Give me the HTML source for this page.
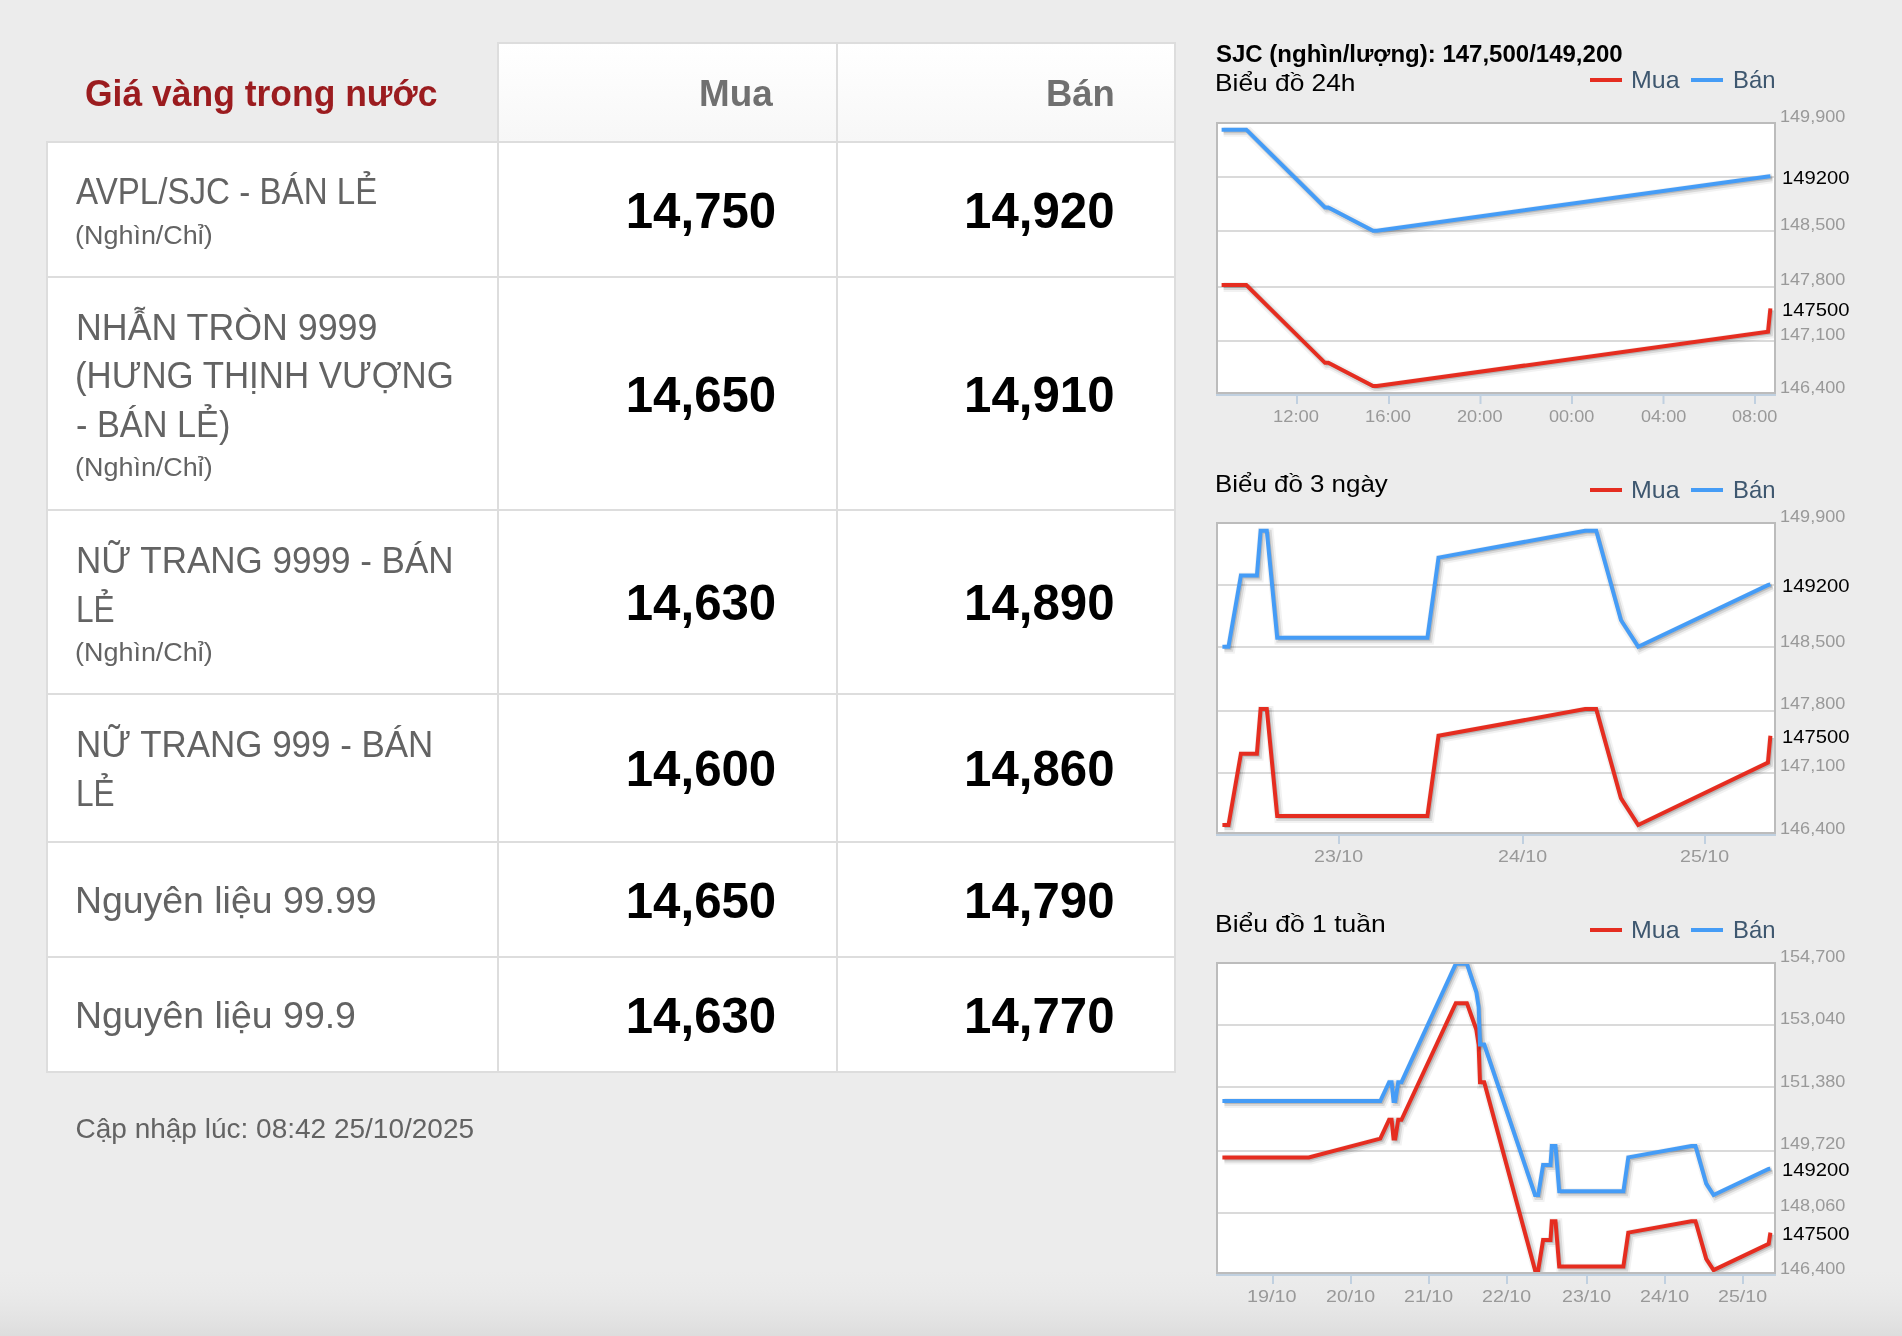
<!DOCTYPE html>
<html lang="vi"><head><meta charset="utf-8"><title>Giá vàng trong nước</title>
<style>
html,body{margin:0;padding:0}
body{width:1902px;height:1336px;overflow:hidden;position:relative;background:#ececec;font-family:"Liberation Sans",sans-serif}
.fade{position:absolute;left:0;top:1270px;width:1902px;height:66px;background:linear-gradient(#ececec,#ebebeb 15%,#eaeaea 30%,#e7e7e7 53%,#e3e3e3 74%,#dfdfdf 91%,#dddddd)}
.cell{position:absolute;box-sizing:border-box;border:2px solid #dddddd;background:#fff}
.cell.h{background:linear-gradient(#ffffff,#fcfcfc 40%,#f7f7f7)}
.labels{position:absolute;left:0;top:0;width:1902px;height:1336px;will-change:transform}
.t{position:absolute;white-space:nowrap;line-height:0;transform-origin:0 0;margin:0}
svg{position:absolute;left:0;top:0;overflow:visible}
</style></head><body>
<div class="fade"></div>
<div class="price-table">
<div class="cell h" style="left:497px;top:42px;width:341px;height:101px"></div><div class="cell h" style="left:836px;top:42px;width:340px;height:101px"></div>
<div class="cell" style="left:46px;top:141px;width:453px;height:137px"></div><div class="cell" style="left:497px;top:141px;width:341px;height:137px"></div><div class="cell" style="left:836px;top:141px;width:340px;height:137px"></div>
<div class="cell" style="left:46px;top:276px;width:453px;height:235px"></div><div class="cell" style="left:497px;top:276px;width:341px;height:235px"></div><div class="cell" style="left:836px;top:276px;width:340px;height:235px"></div>
<div class="cell" style="left:46px;top:509px;width:453px;height:186px"></div><div class="cell" style="left:497px;top:509px;width:341px;height:186px"></div><div class="cell" style="left:836px;top:509px;width:340px;height:186px"></div>
<div class="cell" style="left:46px;top:693px;width:453px;height:150px"></div><div class="cell" style="left:497px;top:693px;width:341px;height:150px"></div><div class="cell" style="left:836px;top:693px;width:340px;height:150px"></div>
<div class="cell" style="left:46px;top:841px;width:453px;height:117px"></div><div class="cell" style="left:497px;top:841px;width:341px;height:117px"></div><div class="cell" style="left:836px;top:841px;width:340px;height:117px"></div>
<div class="cell" style="left:46px;top:956px;width:453px;height:117px"></div><div class="cell" style="left:497px;top:956px;width:341px;height:117px"></div><div class="cell" style="left:836px;top:956px;width:340px;height:117px"></div>
</div>
<svg width="1902" height="1336" viewBox="0 0 1902 1336">
<clipPath id="cp0"><rect x="1218" y="124" width="556" height="268"/></clipPath>
<g>
<rect x="1217" y="123" width="558" height="270" fill="#fff"/>
<path d="M1217 177H1775" stroke="#dadada" stroke-width="2"/><path d="M1217 231H1775" stroke="#dadada" stroke-width="2"/><path d="M1217 287H1775" stroke="#dadada" stroke-width="2"/><path d="M1217 341H1775" stroke="#dadada" stroke-width="2"/>
<g clip-path="url(#cp0)">
<path d="M1221.6 285.1 L1246.3 285.1 L1325.0 362.8 L1328.3 362.8 L1373.0 386.1 L1377.0 386.1 L1768.0 331.7 L1770.4 308.4" fill="none" stroke="#000" stroke-opacity="0.05" stroke-width="10" stroke-linejoin="miter" transform="translate(2,2)"/>
<path d="M1221.6 285.1 L1246.3 285.1 L1325.0 362.8 L1328.3 362.8 L1373.0 386.1 L1377.0 386.1 L1768.0 331.7 L1770.4 308.4" fill="none" stroke="#000" stroke-opacity="0.1" stroke-width="6" stroke-linejoin="miter" transform="translate(2,2)"/>
<path d="M1221.6 285.1 L1246.3 285.1 L1325.0 362.8 L1328.3 362.8 L1373.0 386.1 L1377.0 386.1 L1768.0 331.7 L1770.4 308.4" fill="none" stroke="#000" stroke-opacity="0.15" stroke-width="2" stroke-linejoin="miter" transform="translate(2,2)"/>
<path d="M1221.6 285.1 L1246.3 285.1 L1325.0 362.8 L1328.3 362.8 L1373.0 386.1 L1377.0 386.1 L1768.0 331.7 L1770.4 308.4" fill="none" stroke="#e52d20" stroke-width="4" stroke-linejoin="miter"/>
<path d="M1221.6 129.7 L1246.3 129.7 L1325.0 207.4 L1328.3 207.4 L1373.0 230.7 L1377.0 230.7 L1768.0 176.5 L1770.4 176.3" fill="none" stroke="#000" stroke-opacity="0.05" stroke-width="10" stroke-linejoin="miter" transform="translate(2,2)"/>
<path d="M1221.6 129.7 L1246.3 129.7 L1325.0 207.4 L1328.3 207.4 L1373.0 230.7 L1377.0 230.7 L1768.0 176.5 L1770.4 176.3" fill="none" stroke="#000" stroke-opacity="0.1" stroke-width="6" stroke-linejoin="miter" transform="translate(2,2)"/>
<path d="M1221.6 129.7 L1246.3 129.7 L1325.0 207.4 L1328.3 207.4 L1373.0 230.7 L1377.0 230.7 L1768.0 176.5 L1770.4 176.3" fill="none" stroke="#000" stroke-opacity="0.15" stroke-width="2" stroke-linejoin="miter" transform="translate(2,2)"/>
<path d="M1221.6 129.7 L1246.3 129.7 L1325.0 207.4 L1328.3 207.4 L1373.0 230.7 L1377.0 230.7 L1768.0 176.5 L1770.4 176.3" fill="none" stroke="#459cf6" stroke-width="4" stroke-linejoin="miter"/>
</g>
<rect x="1217" y="123" width="558" height="270" fill="none" stroke="#bcbcbc" stroke-width="2"/>
<path d="M1216 395H1776" stroke="#c0d0e0" stroke-width="2"/>
<path d="M1297 396V404" stroke="#c0d0e0" stroke-width="2"/><path d="M1389 396V404" stroke="#c0d0e0" stroke-width="2"/><path d="M1480.5 396V404" stroke="#c0d0e0" stroke-width="2"/><path d="M1572 396V404" stroke="#c0d0e0" stroke-width="2"/><path d="M1663.5 396V404" stroke="#c0d0e0" stroke-width="2"/><path d="M1755 396V404" stroke="#c0d0e0" stroke-width="2"/>
</g>
<clipPath id="cp1"><rect x="1218" y="524" width="556" height="308"/></clipPath>
<g>
<rect x="1217" y="523" width="558" height="310" fill="#fff"/>
<path d="M1217 585H1775" stroke="#dadada" stroke-width="2"/><path d="M1217 647H1775" stroke="#dadada" stroke-width="2"/><path d="M1217 711H1775" stroke="#dadada" stroke-width="2"/><path d="M1217 773H1775" stroke="#dadada" stroke-width="2"/>
<g clip-path="url(#cp1)">
<path d="M1222.4 825.0 L1228.5 825.0 L1240.9 753.7 L1256.9 753.7 L1260.6 709.1 L1266.8 709.1 L1277.2 816.1 L1427.4 816.1 L1438.5 735.8 L1585.1 709.1 L1596.2 709.1 L1620.9 798.2 L1638.2 825.0 L1767.9 762.6 L1770.4 735.8" fill="none" stroke="#000" stroke-opacity="0.05" stroke-width="10" stroke-linejoin="miter" transform="translate(2,2)"/>
<path d="M1222.4 825.0 L1228.5 825.0 L1240.9 753.7 L1256.9 753.7 L1260.6 709.1 L1266.8 709.1 L1277.2 816.1 L1427.4 816.1 L1438.5 735.8 L1585.1 709.1 L1596.2 709.1 L1620.9 798.2 L1638.2 825.0 L1767.9 762.6 L1770.4 735.8" fill="none" stroke="#000" stroke-opacity="0.1" stroke-width="6" stroke-linejoin="miter" transform="translate(2,2)"/>
<path d="M1222.4 825.0 L1228.5 825.0 L1240.9 753.7 L1256.9 753.7 L1260.6 709.1 L1266.8 709.1 L1277.2 816.1 L1427.4 816.1 L1438.5 735.8 L1585.1 709.1 L1596.2 709.1 L1620.9 798.2 L1638.2 825.0 L1767.9 762.6 L1770.4 735.8" fill="none" stroke="#000" stroke-opacity="0.15" stroke-width="2" stroke-linejoin="miter" transform="translate(2,2)"/>
<path d="M1222.4 825.0 L1228.5 825.0 L1240.9 753.7 L1256.9 753.7 L1260.6 709.1 L1266.8 709.1 L1277.2 816.1 L1427.4 816.1 L1438.5 735.8 L1585.1 709.1 L1596.2 709.1 L1620.9 798.2 L1638.2 825.0 L1767.9 762.6 L1770.4 735.8" fill="none" stroke="#e52d20" stroke-width="4" stroke-linejoin="miter"/>
<path d="M1222.4 646.7 L1228.5 646.7 L1240.9 575.4 L1256.9 575.4 L1260.6 530.8 L1266.8 530.8 L1277.2 637.8 L1427.4 637.8 L1438.5 557.6 L1585.1 530.8 L1596.2 530.8 L1620.9 620.0 L1638.2 646.7 L1767.9 585.2 L1770.4 584.3" fill="none" stroke="#000" stroke-opacity="0.05" stroke-width="10" stroke-linejoin="miter" transform="translate(2,2)"/>
<path d="M1222.4 646.7 L1228.5 646.7 L1240.9 575.4 L1256.9 575.4 L1260.6 530.8 L1266.8 530.8 L1277.2 637.8 L1427.4 637.8 L1438.5 557.6 L1585.1 530.8 L1596.2 530.8 L1620.9 620.0 L1638.2 646.7 L1767.9 585.2 L1770.4 584.3" fill="none" stroke="#000" stroke-opacity="0.1" stroke-width="6" stroke-linejoin="miter" transform="translate(2,2)"/>
<path d="M1222.4 646.7 L1228.5 646.7 L1240.9 575.4 L1256.9 575.4 L1260.6 530.8 L1266.8 530.8 L1277.2 637.8 L1427.4 637.8 L1438.5 557.6 L1585.1 530.8 L1596.2 530.8 L1620.9 620.0 L1638.2 646.7 L1767.9 585.2 L1770.4 584.3" fill="none" stroke="#000" stroke-opacity="0.15" stroke-width="2" stroke-linejoin="miter" transform="translate(2,2)"/>
<path d="M1222.4 646.7 L1228.5 646.7 L1240.9 575.4 L1256.9 575.4 L1260.6 530.8 L1266.8 530.8 L1277.2 637.8 L1427.4 637.8 L1438.5 557.6 L1585.1 530.8 L1596.2 530.8 L1620.9 620.0 L1638.2 646.7 L1767.9 585.2 L1770.4 584.3" fill="none" stroke="#459cf6" stroke-width="4" stroke-linejoin="miter"/>
</g>
<rect x="1217" y="523" width="558" height="310" fill="none" stroke="#bcbcbc" stroke-width="2"/>
<path d="M1216 835H1776" stroke="#c0d0e0" stroke-width="2"/>
<path d="M1339 836V844" stroke="#c0d0e0" stroke-width="2"/><path d="M1523 836V844" stroke="#c0d0e0" stroke-width="2"/><path d="M1705 836V844" stroke="#c0d0e0" stroke-width="2"/>
</g>
<clipPath id="cp2"><rect x="1218" y="964" width="556" height="308"/></clipPath>
<g>
<rect x="1217" y="963" width="558" height="310" fill="#fff"/>
<path d="M1217 1025H1775" stroke="#dadada" stroke-width="2"/><path d="M1217 1087H1775" stroke="#dadada" stroke-width="2"/><path d="M1217 1151H1775" stroke="#dadada" stroke-width="2"/><path d="M1217 1213H1775" stroke="#dadada" stroke-width="2"/>
<g clip-path="url(#cp2)">
<path d="M1222.4 1157.4 L1308.8 1157.4 L1380.3 1138.6 L1389.1 1119.8 L1391.6 1119.8 L1393.5 1138.6 L1395.3 1138.6 L1398.2 1119.8 L1401.5 1119.8 L1455.8 1003.2 L1466.9 1003.2 L1476.3 1029.6 L1478.6 1044.6 L1480.0 1082.2 L1484.2 1082.2 L1535.0 1270.1 L1538.2 1270.1 L1543.1 1240.1 L1550.5 1240.1 L1551.8 1221.3 L1555.5 1221.3 L1559.2 1266.4 L1623.4 1266.4 L1628.3 1232.6 L1691.3 1221.3 L1695.5 1221.3 L1706.2 1258.9 L1713.6 1270.1 L1768.7 1243.8 L1770.4 1232.6" fill="none" stroke="#000" stroke-opacity="0.05" stroke-width="10" stroke-linejoin="miter" transform="translate(2,2)"/>
<path d="M1222.4 1157.4 L1308.8 1157.4 L1380.3 1138.6 L1389.1 1119.8 L1391.6 1119.8 L1393.5 1138.6 L1395.3 1138.6 L1398.2 1119.8 L1401.5 1119.8 L1455.8 1003.2 L1466.9 1003.2 L1476.3 1029.6 L1478.6 1044.6 L1480.0 1082.2 L1484.2 1082.2 L1535.0 1270.1 L1538.2 1270.1 L1543.1 1240.1 L1550.5 1240.1 L1551.8 1221.3 L1555.5 1221.3 L1559.2 1266.4 L1623.4 1266.4 L1628.3 1232.6 L1691.3 1221.3 L1695.5 1221.3 L1706.2 1258.9 L1713.6 1270.1 L1768.7 1243.8 L1770.4 1232.6" fill="none" stroke="#000" stroke-opacity="0.1" stroke-width="6" stroke-linejoin="miter" transform="translate(2,2)"/>
<path d="M1222.4 1157.4 L1308.8 1157.4 L1380.3 1138.6 L1389.1 1119.8 L1391.6 1119.8 L1393.5 1138.6 L1395.3 1138.6 L1398.2 1119.8 L1401.5 1119.8 L1455.8 1003.2 L1466.9 1003.2 L1476.3 1029.6 L1478.6 1044.6 L1480.0 1082.2 L1484.2 1082.2 L1535.0 1270.1 L1538.2 1270.1 L1543.1 1240.1 L1550.5 1240.1 L1551.8 1221.3 L1555.5 1221.3 L1559.2 1266.4 L1623.4 1266.4 L1628.3 1232.6 L1691.3 1221.3 L1695.5 1221.3 L1706.2 1258.9 L1713.6 1270.1 L1768.7 1243.8 L1770.4 1232.6" fill="none" stroke="#000" stroke-opacity="0.15" stroke-width="2" stroke-linejoin="miter" transform="translate(2,2)"/>
<path d="M1222.4 1157.4 L1308.8 1157.4 L1380.3 1138.6 L1389.1 1119.8 L1391.6 1119.8 L1393.5 1138.6 L1395.3 1138.6 L1398.2 1119.8 L1401.5 1119.8 L1455.8 1003.2 L1466.9 1003.2 L1476.3 1029.6 L1478.6 1044.6 L1480.0 1082.2 L1484.2 1082.2 L1535.0 1270.1 L1538.2 1270.1 L1543.1 1240.1 L1550.5 1240.1 L1551.8 1221.3 L1555.5 1221.3 L1559.2 1266.4 L1623.4 1266.4 L1628.3 1232.6 L1691.3 1221.3 L1695.5 1221.3 L1706.2 1258.9 L1713.6 1270.1 L1768.7 1243.8 L1770.4 1232.6" fill="none" stroke="#e52d20" stroke-width="4" stroke-linejoin="miter"/>
<path d="M1222.4 1101.0 L1308.8 1101.0 L1380.3 1101.0 L1389.1 1082.2 L1391.6 1082.2 L1393.5 1101.0 L1395.3 1101.0 L1398.2 1082.2 L1401.5 1082.2 L1455.8 963.8 L1466.9 963.8 L1476.3 992.0 L1478.6 1007.0 L1480.0 1044.6 L1484.2 1044.6 L1535.0 1195.0 L1538.2 1195.0 L1543.1 1164.9 L1550.5 1164.9 L1551.8 1146.1 L1555.5 1146.1 L1559.2 1191.2 L1623.4 1191.2 L1628.3 1157.4 L1691.3 1146.1 L1695.5 1146.1 L1706.2 1183.7 L1713.6 1195.0 L1768.7 1169.0 L1770.4 1168.6" fill="none" stroke="#000" stroke-opacity="0.05" stroke-width="10" stroke-linejoin="miter" transform="translate(2,2)"/>
<path d="M1222.4 1101.0 L1308.8 1101.0 L1380.3 1101.0 L1389.1 1082.2 L1391.6 1082.2 L1393.5 1101.0 L1395.3 1101.0 L1398.2 1082.2 L1401.5 1082.2 L1455.8 963.8 L1466.9 963.8 L1476.3 992.0 L1478.6 1007.0 L1480.0 1044.6 L1484.2 1044.6 L1535.0 1195.0 L1538.2 1195.0 L1543.1 1164.9 L1550.5 1164.9 L1551.8 1146.1 L1555.5 1146.1 L1559.2 1191.2 L1623.4 1191.2 L1628.3 1157.4 L1691.3 1146.1 L1695.5 1146.1 L1706.2 1183.7 L1713.6 1195.0 L1768.7 1169.0 L1770.4 1168.6" fill="none" stroke="#000" stroke-opacity="0.1" stroke-width="6" stroke-linejoin="miter" transform="translate(2,2)"/>
<path d="M1222.4 1101.0 L1308.8 1101.0 L1380.3 1101.0 L1389.1 1082.2 L1391.6 1082.2 L1393.5 1101.0 L1395.3 1101.0 L1398.2 1082.2 L1401.5 1082.2 L1455.8 963.8 L1466.9 963.8 L1476.3 992.0 L1478.6 1007.0 L1480.0 1044.6 L1484.2 1044.6 L1535.0 1195.0 L1538.2 1195.0 L1543.1 1164.9 L1550.5 1164.9 L1551.8 1146.1 L1555.5 1146.1 L1559.2 1191.2 L1623.4 1191.2 L1628.3 1157.4 L1691.3 1146.1 L1695.5 1146.1 L1706.2 1183.7 L1713.6 1195.0 L1768.7 1169.0 L1770.4 1168.6" fill="none" stroke="#000" stroke-opacity="0.15" stroke-width="2" stroke-linejoin="miter" transform="translate(2,2)"/>
<path d="M1222.4 1101.0 L1308.8 1101.0 L1380.3 1101.0 L1389.1 1082.2 L1391.6 1082.2 L1393.5 1101.0 L1395.3 1101.0 L1398.2 1082.2 L1401.5 1082.2 L1455.8 963.8 L1466.9 963.8 L1476.3 992.0 L1478.6 1007.0 L1480.0 1044.6 L1484.2 1044.6 L1535.0 1195.0 L1538.2 1195.0 L1543.1 1164.9 L1550.5 1164.9 L1551.8 1146.1 L1555.5 1146.1 L1559.2 1191.2 L1623.4 1191.2 L1628.3 1157.4 L1691.3 1146.1 L1695.5 1146.1 L1706.2 1183.7 L1713.6 1195.0 L1768.7 1169.0 L1770.4 1168.6" fill="none" stroke="#459cf6" stroke-width="4" stroke-linejoin="miter"/>
</g>
<rect x="1217" y="963" width="558" height="310" fill="none" stroke="#bcbcbc" stroke-width="2"/>
<path d="M1216 1275H1776" stroke="#c0d0e0" stroke-width="2"/>
<path d="M1273 1276V1284" stroke="#c0d0e0" stroke-width="2"/><path d="M1351 1276V1284" stroke="#c0d0e0" stroke-width="2"/><path d="M1429 1276V1284" stroke="#c0d0e0" stroke-width="2"/><path d="M1507 1276V1284" stroke="#c0d0e0" stroke-width="2"/><path d="M1587 1276V1284" stroke="#c0d0e0" stroke-width="2"/><path d="M1665 1276V1284" stroke="#c0d0e0" stroke-width="2"/><path d="M1743 1276V1284" stroke="#c0d0e0" stroke-width="2"/>
</g>
<path d="M1590 80H1622" stroke="#e52d20" stroke-width="4"/><path d="M1691 80H1723" stroke="#459cf6" stroke-width="4"/>
<path d="M1590 490H1622" stroke="#e52d20" stroke-width="4"/><path d="M1691 490H1723" stroke="#459cf6" stroke-width="4"/>
<path d="M1590 930H1622" stroke="#e52d20" stroke-width="4"/><path d="M1691 930H1723" stroke="#459cf6" stroke-width="4"/>
</svg>
<div class="labels">
<span class="t" style="left:84.98px;top:93px;font-size:37.4px;color:#9b1c1f;font-weight:bold;transform:scaleX(0.9487);">Giá vàng trong nước</span>
<span class="t" style="left:699.41px;top:93px;font-size:37.2px;color:#707070;font-weight:bold;transform:scaleX(0.9902);">Mua</span>
<span class="t" style="left:1046.03px;top:93px;font-size:37.2px;color:#707070;font-weight:bold;transform:scaleX(0.9802);">Bán</span>
<span class="t" style="left:76.00px;top:191px;font-size:37.2px;color:#636363;transform:scaleX(0.8907);">AVPL/SJC - BÁN LẺ</span>
<span class="t" style="left:75.38px;top:235px;font-size:25.6px;color:#636363;transform:scaleX(1.0527);">(Nghìn/Chỉ)</span>
<span class="t" style="left:75.74px;top:327px;font-size:37.2px;color:#636363;transform:scaleX(0.9615);">NHẪN TRÒN 9999</span>
<span class="t" style="left:74.91px;top:375px;font-size:37.2px;color:#636363;transform:scaleX(0.9361);">(HƯNG THỊNH VƯỢNG</span>
<span class="t" style="left:75.63px;top:424px;font-size:37.2px;color:#636363;transform:scaleX(0.9219);">- BÁN LẺ)</span>
<span class="t" style="left:75.38px;top:467px;font-size:25.6px;color:#636363;transform:scaleX(1.0527);">(Nghìn/Chỉ)</span>
<span class="t" style="left:75.60px;top:560px;font-size:37.2px;color:#636363;transform:scaleX(0.9415);">NỮ TRANG 9999 - BÁN</span>
<span class="t" style="left:75.87px;top:609px;font-size:37.2px;color:#636363;transform:scaleX(0.8495);">LẺ</span>
<span class="t" style="left:75.38px;top:652px;font-size:25.6px;color:#636363;transform:scaleX(1.0527);">(Nghìn/Chỉ)</span>
<span class="t" style="left:75.60px;top:744px;font-size:37.2px;color:#636363;transform:scaleX(0.9396);">NỮ TRANG 999 - BÁN</span>
<span class="t" style="left:75.87px;top:793px;font-size:37.2px;color:#636363;transform:scaleX(0.8495);">LẺ</span>
<span class="t" style="left:75.21px;top:900px;font-size:37.2px;color:#636363;transform:scaleX(1.0058);">Nguyên liệu 99.99</span>
<span class="t" style="left:75.20px;top:1015px;font-size:37.2px;color:#636363;transform:scaleX(1.0065);">Nguyên liệu 99.9</span>
<span class="t" style="left:625.75px;top:211px;font-size:49.2px;color:#000;font-weight:bold;">14,750</span>
<span class="t" style="left:964.05px;top:211px;font-size:49.2px;color:#000;font-weight:bold;">14,920</span>
<span class="t" style="left:625.75px;top:395px;font-size:49.2px;color:#000;font-weight:bold;">14,650</span>
<span class="t" style="left:964.05px;top:395px;font-size:49.2px;color:#000;font-weight:bold;">14,910</span>
<span class="t" style="left:625.75px;top:603px;font-size:49.2px;color:#000;font-weight:bold;">14,630</span>
<span class="t" style="left:964.05px;top:603px;font-size:49.2px;color:#000;font-weight:bold;">14,890</span>
<span class="t" style="left:625.75px;top:769px;font-size:49.2px;color:#000;font-weight:bold;">14,600</span>
<span class="t" style="left:964.05px;top:769px;font-size:49.2px;color:#000;font-weight:bold;">14,860</span>
<span class="t" style="left:625.75px;top:901px;font-size:49.2px;color:#000;font-weight:bold;">14,650</span>
<span class="t" style="left:964.05px;top:901px;font-size:49.2px;color:#000;font-weight:bold;">14,790</span>
<span class="t" style="left:625.75px;top:1016px;font-size:49.2px;color:#000;font-weight:bold;">14,630</span>
<span class="t" style="left:964.05px;top:1016px;font-size:49.2px;color:#000;font-weight:bold;">14,770</span>
<span class="t" style="left:75.50px;top:1129px;font-size:28px;color:#636363;">Cập nhập lúc: 08:42 25/10/2025</span>
<span class="t" style="left:1216.00px;top:54px;font-size:24px;color:#000;font-weight:bold;">SJC (nghìn/lượng): 147,500/149,200</span>
<span class="t" style="left:1215.19px;top:83px;font-size:24px;color:#000;transform:scaleX(1.0968);">Biểu đồ 24h</span>
<span class="t" style="left:1215.23px;top:484px;font-size:24px;color:#000;transform:scaleX(1.0790);">Biểu đồ 3 ngày</span>
<span class="t" style="left:1215.18px;top:924px;font-size:24px;color:#000;transform:scaleX(1.1023);">Biểu đồ 1 tuần</span>
<span class="t" style="left:1631.20px;top:80px;font-size:24.6px;color:#3e576f;transform:scaleX(1.0156);">Mua</span>
<span class="t" style="left:1732.59px;top:80px;font-size:24.6px;color:#3e576f;transform:scaleX(0.9703);">Bán</span>
<span class="t" style="left:1631.20px;top:490px;font-size:24.6px;color:#3e576f;transform:scaleX(1.0156);">Mua</span>
<span class="t" style="left:1732.59px;top:490px;font-size:24.6px;color:#3e576f;transform:scaleX(0.9703);">Bán</span>
<span class="t" style="left:1631.20px;top:930px;font-size:24.6px;color:#3e576f;transform:scaleX(1.0156);">Mua</span>
<span class="t" style="left:1732.59px;top:930px;font-size:24.6px;color:#3e576f;transform:scaleX(0.9703);">Bán</span>
<span class="t" style="left:1780.44px;top:117px;font-size:16.6px;color:#999999;transform:scaleX(1.0901);">149,900</span>
<span class="t" style="left:1780.44px;top:225px;font-size:16.6px;color:#999999;transform:scaleX(1.0901);">148,500</span>
<span class="t" style="left:1780.44px;top:280px;font-size:16.6px;color:#999999;transform:scaleX(1.0901);">147,800</span>
<span class="t" style="left:1780.44px;top:335px;font-size:16.6px;color:#999999;transform:scaleX(1.0901);">147,100</span>
<span class="t" style="left:1780.44px;top:388px;font-size:16.6px;color:#999999;transform:scaleX(1.0901);">146,400</span>
<span class="t" style="left:1782.08px;top:178px;font-size:18.8px;color:#000;transform:scaleX(1.0768);">149200</span>
<span class="t" style="left:1782.08px;top:310px;font-size:18.8px;color:#000;transform:scaleX(1.0768);">147500</span>
<span class="t" style="left:1273.42px;top:417px;font-size:16.6px;color:#999999;transform:scaleX(1.1084);">12:00</span>
<span class="t" style="left:1365.42px;top:417px;font-size:16.6px;color:#999999;transform:scaleX(1.1084);">16:00</span>
<span class="t" style="left:1457.39px;top:417px;font-size:16.6px;color:#999999;transform:scaleX(1.0970);">20:00</span>
<span class="t" style="left:1549.17px;top:417px;font-size:16.6px;color:#999999;transform:scaleX(1.0902);">00:00</span>
<span class="t" style="left:1640.67px;top:417px;font-size:16.6px;color:#999999;transform:scaleX(1.0902);">04:00</span>
<span class="t" style="left:1732.17px;top:417px;font-size:16.6px;color:#999999;transform:scaleX(1.0902);">08:00</span>
<span class="t" style="left:1780.44px;top:517px;font-size:16.6px;color:#999999;transform:scaleX(1.0901);">149,900</span>
<span class="t" style="left:1780.44px;top:642px;font-size:16.6px;color:#999999;transform:scaleX(1.0901);">148,500</span>
<span class="t" style="left:1780.44px;top:704px;font-size:16.6px;color:#999999;transform:scaleX(1.0901);">147,800</span>
<span class="t" style="left:1780.44px;top:766px;font-size:16.6px;color:#999999;transform:scaleX(1.0901);">147,100</span>
<span class="t" style="left:1780.44px;top:829px;font-size:16.6px;color:#999999;transform:scaleX(1.0901);">146,400</span>
<span class="t" style="left:1782.08px;top:586px;font-size:18.8px;color:#000;transform:scaleX(1.0768);">149200</span>
<span class="t" style="left:1782.08px;top:737px;font-size:18.8px;color:#000;transform:scaleX(1.0768);">147500</span>
<span class="t" style="left:1313.52px;top:857px;font-size:16.6px;color:#999999;transform:scaleX(1.1817);">23/10</span>
<span class="t" style="left:1497.52px;top:857px;font-size:16.6px;color:#999999;transform:scaleX(1.1817);">24/10</span>
<span class="t" style="left:1679.52px;top:857px;font-size:16.6px;color:#999999;transform:scaleX(1.1817);">25/10</span>
<span class="t" style="left:1780.44px;top:957px;font-size:16.6px;color:#999999;transform:scaleX(1.0901);">154,700</span>
<span class="t" style="left:1780.44px;top:1019px;font-size:16.6px;color:#999999;transform:scaleX(1.0901);">153,040</span>
<span class="t" style="left:1780.44px;top:1082px;font-size:16.6px;color:#999999;transform:scaleX(1.0901);">151,380</span>
<span class="t" style="left:1780.44px;top:1144px;font-size:16.6px;color:#999999;transform:scaleX(1.0901);">149,720</span>
<span class="t" style="left:1780.44px;top:1206px;font-size:16.6px;color:#999999;transform:scaleX(1.0901);">148,060</span>
<span class="t" style="left:1780.44px;top:1269px;font-size:16.6px;color:#999999;transform:scaleX(1.0901);">146,400</span>
<span class="t" style="left:1782.08px;top:1170px;font-size:18.8px;color:#000;transform:scaleX(1.0768);">149200</span>
<span class="t" style="left:1782.08px;top:1234px;font-size:18.8px;color:#000;transform:scaleX(1.0768);">147500</span>
<span class="t" style="left:1247.01px;top:1297px;font-size:16.6px;color:#999999;transform:scaleX(1.1941);">19/10</span>
<span class="t" style="left:1325.52px;top:1297px;font-size:16.6px;color:#999999;transform:scaleX(1.1817);">20/10</span>
<span class="t" style="left:1403.52px;top:1297px;font-size:16.6px;color:#999999;transform:scaleX(1.1817);">21/10</span>
<span class="t" style="left:1481.52px;top:1297px;font-size:16.6px;color:#999999;transform:scaleX(1.1817);">22/10</span>
<span class="t" style="left:1561.52px;top:1297px;font-size:16.6px;color:#999999;transform:scaleX(1.1817);">23/10</span>
<span class="t" style="left:1639.52px;top:1297px;font-size:16.6px;color:#999999;transform:scaleX(1.1817);">24/10</span>
<span class="t" style="left:1717.52px;top:1297px;font-size:16.6px;color:#999999;transform:scaleX(1.1817);">25/10</span>
</div>
</body></html>
